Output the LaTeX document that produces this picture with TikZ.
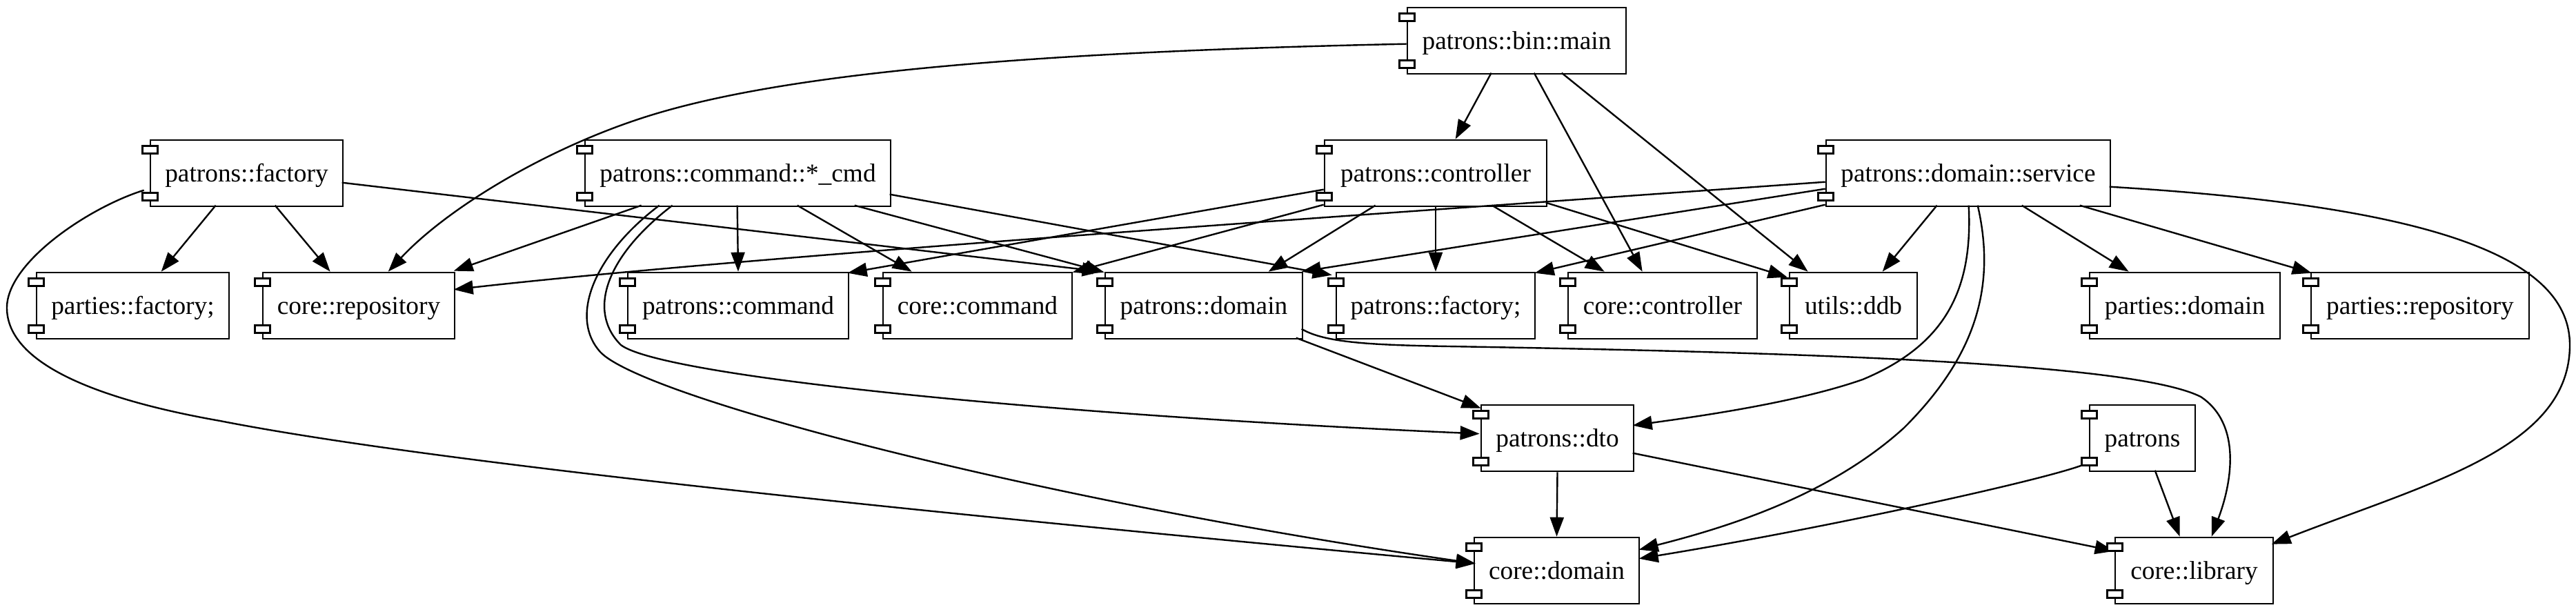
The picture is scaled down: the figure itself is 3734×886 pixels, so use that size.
\documentclass[tikz,border=0pt]{standalone}
\usepackage{fontspec}
\setmainfont{Liberation Serif}
\usetikzlibrary{arrows.meta,calc}
\begin{document}
\begin{tikzpicture}[x=0.375pt,y=-0.375pt,
  comp/.style={draw, line width=1pt, rectangle, inner sep=0pt, minimum height=36pt, fill=white,
    font=\fontsize{14pt}{17pt}\selectfont, text height=10.5pt, text depth=1.5pt},
  wd/.style={minimum width=#1*0.375pt},
  e/.style={line width=0.9pt, -{Triangle[length=10.5pt,width=7.5pt]}},
  tab/.style={draw, line width=1pt, fill=white}]
\useasboundingbox (0,0) rectangle (3734,886);

% nodes
\node[comp,wd=317] (main) at (2198.5,59) {patrons::bin::main};
\node[comp,wd=279] (fac) at (357.5,251) {patrons::factory};
\node[comp,wd=443] (cmd) at (1069.5,251) {patrons::command::*\_cmd};
\node[comp,wd=322] (ctrl) at (2081,251) {patrons::controller};
\node[comp,wd=412] (svc) at (2853,251) {patrons::domain::service};
\node[comp,wd=279] (pfac) at (192.5,443) {parties::factory;};
\node[comp,wd=278] (crepo) at (520,443) {core::repository};
\node[comp,wd=320] (pcmd) at (1070,443) {patrons::command};
\node[comp,wd=274] (ccmd) at (1417,443) {core::command};
\node[comp,wd=286] (pdom) at (1745,443) {patrons::domain};
\node[comp,wd=288] (pfs) at (2081,443) {patrons::factory;};
\node[comp,wd=274] (cctl) at (2410,443) {core::controller};
\node[comp,wd=185] (ddb) at (2686.5,443) {utils::ddb};
\node[comp,wd=276] (pardom) at (3167,443) {parties::domain};
\node[comp,wd=316] (prepo) at (3508,443) {parties::repository};
\node[comp,wd=221] (dto) at (2257.5,635) {patrons::dto};
\node[comp,wd=153] (pat) at (3105.5,635) {patrons};
\node[comp,wd=239] (cdom) at (2256.5,827) {core::domain};
\node[comp,wd=229] (clib) at (3180.5,827) {core::library};

% edges
\draw[e] ($(main.north west)+(0,54)$) .. controls (1500,75) and (1150,105) .. (950,165) .. controls (800,210) and (650,300) .. ($(crepo.north west)+(183,0)$);
\draw[e] ($(main.north west)+(123,96)$) -- ($(ctrl.north west)+(191,0)$);
\draw[e] ($(main.north west)+(185,96)$) -- ($(cctl.north west)+(109,0)$);
\draw[e] ($(main.north west)+(225,96)$) -- ($(ddb.north west)+(28,0)$);

\draw[e] ($(fac.north west)+(96,96)$) -- ($(pfac.north west)+(182,0)$);
\draw[e] ($(fac.north west)+(182,96)$) -- ($(crepo.north west)+(99,0)$);
\draw[e] ($(fac.north west)+(279,63)$) -- ($(pdom.north west)+(-4,0)$);
\draw[e] ($(fac.north west)+(-8,74)$) .. controls (130,300) and (10,380) .. (10,446) .. controls (10,520) and (120,575) .. (319,610) .. controls (600,665) and (1200,730) .. ($(cdom.north west)+(3,39)$);

\draw[e] ($(cmd.north west)+(83,96)$) -- ($(crepo.north west)+(278,-1)$);
\draw[e] ($(cmd.north west)+(222,96)$) -- (pcmd.north);
\draw[e] ($(cmd.north west)+(309,96)$) -- ($(ccmd.north west)+(43,0)$);
\draw[e] ($(cmd.north west)+(392,96)$) -- ($(pdom.north west)+(0,1)$);
\draw[e] ($(cmd.north west)+(443,80)$) -- ($(pfs.north west)+(-5,5)$);
\draw[e] ($(cmd.north west)+(128,96)$) .. controls (880,370) and (850,450) .. (900,500) .. controls (960,545) and (1500,600) .. ($(dto.north west)+(-1,43)$);
\draw[e] ($(cmd.north west)+(109,96)$) .. controls (860,370) and (825,460) .. (870,510) .. controls (930,575) and (1500,725) .. ($(cdom.north west)+(3,39)$);

\draw[e] ($(ctrl.north west)+(0,73)$) -- ($(pcmd.north west)+(320,2)$);
\draw[e] ($(ctrl.north west)+(0,95)$) -- ($(ccmd.north west)+(276,1)$);
\draw[e] ($(ctrl.north west)+(75,96)$) -- ($(pdom.north west)+(238,0)$);
\draw[e] (ctrl.south) -- (pfs.north);
\draw[e] ($(ctrl.north west)+(244,96)$) -- ($(cctl.north west)+(54,0)$);
\draw[e] ($(ctrl.north west)+(322,92)$) -- ($(ddb.north west)+(-2,8)$);

\draw[e] ($(svc.north west)+(0,62)$) .. controls (2000,310) and (1100,370) .. ($(crepo.north west)+(278,26)$);
\draw[e] ($(svc.north west)+(0,72)$) -- ($(pdom.north west)+(286,0)$);
\draw[e] ($(svc.north west)+(0,95)$) -- ($(pfs.north west)+(289,2)$);
\draw[e] ($(svc.north west)+(162,96)$) -- ($(ddb.north west)+(136,0)$);
\draw[e] ($(svc.north west)+(285,96)$) -- ($(pardom.north west)+(58,0)$);
\draw[e] ($(svc.north west)+(369,96)$) -- ($(prepo.north west)+(2,2)$);
\draw[e] ($(svc.north west)+(208,96)$) .. controls (2860,420) and (2820,500) .. (2700,550) .. controls (2600,585) and (2450,605) .. ($(dto.north west)+(221,31)$);
\draw[e] ($(svc.north west)+(221,96)$) .. controls (2895,420) and (2860,520) .. (2760,620) .. controls (2650,720) and (2500,765) .. ($(cdom.north west)+(240,19)$);
\draw[e] ($(svc.north west)+(412,69)$) .. controls (3550,300) and (3725,380) .. (3725,500) .. controls (3725,650) and (3520,700) .. ($(clib.north west)+(228,11)$);

\draw[e] ($(pdom.north west)+(278,96)$) -- ($(dto.north west)+(1,6)$);
\draw[e] ($(pdom.north west)+(286,83)$) .. controls (1920,497) and (1990,500) .. (2100,502) .. controls (2700,512) and (3100,530) .. (3190,575) .. controls (3250,615) and (3235,700) .. ($(clib.north west)+(141,0)$);

\draw[e] (dto.south) -- (cdom.north);
\draw[e] ($(dto.north west)+(221,71)$) -- ($(clib.north west)+(0,21)$);

\draw[e] ($(pat.north west)+(-1,85)$) .. controls (2990,690) and (2650,765) .. ($(cdom.north west)+(240,32)$);
\draw[e] ($(pat.north west)+(96,96)$) -- ($(clib.north west)+(95,0)$);

% component tabs
\foreach \n in {main,fac,cmd,ctrl,svc,pfac,crepo,pcmd,ccmd,pdom,pfs,cctl,ddb,pardom,prepo,dto,pat,cdom,clib} {
  \draw[tab] ($(\n.north west)+(-10,10)$) rectangle ($(\n.north west)+(12,21)$);
  \draw[tab] ($(\n.south west)+(-10,-21)$) rectangle ($(\n.south west)+(12,-10)$);
}
\end{tikzpicture}
\end{document}
